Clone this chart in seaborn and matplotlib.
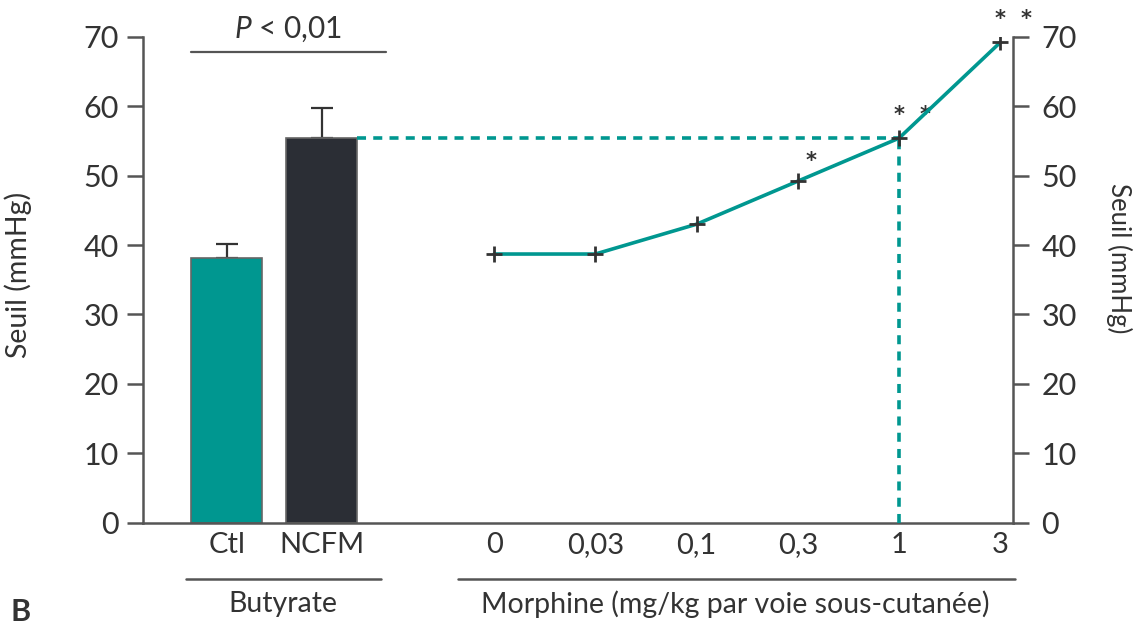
import numpy as np
import pandas as pd
import matplotlib
matplotlib.use('Agg')
import matplotlib.pyplot as plt
import matplotlib.transforms as mtransforms
import seaborn as sns

# ---- data ----
bar_labels = ['Ctl', 'NCFM']
bar_values = [38.2, 55.4]
bar_errors = [1.9, 4.4]

doses = ['0', '0,03', '0,1', '0,3', '1', '3']
morphine_values = [38.7, 38.7, 43.0, 49.2, 55.4, 69.2]
stars = ['', '', '', '*', '* *', '* *']

# ---- style ----
sns.set_theme(style='ticks')
plt.rcParams['font.family'] = ['Lato', 'DejaVu Sans']
plt.rcParams['mathtext.fontset'] = 'custom'
plt.rcParams['mathtext.it'] = 'Lato:italic'
plt.rcParams['mathtext.rm'] = 'Lato'

TEAL = '#009790'
DARK = '#2b2e35'
INK = '#333333'
SPINE = '#555555'

# layout (x units: one unit ~ 100 px)
bar_w = 0.71
bar_x = [0.834 + i * 0.95 for i in range(len(bar_labels))]
dose_x = [3.507 + i * 1.012 for i in range(len(doses))]

fig = plt.figure(figsize=(11.47, 6.28), dpi=100)
ax = fig.add_axes([0.1249, 0.1678, 0.7582, 0.7736])

df_bar = pd.DataFrame({'x': bar_x, 'y': bar_values, 'grp': bar_labels})
sns.barplot(data=df_bar, x='x', y='y', hue='grp', palette=[TEAL, DARK],
            native_scale=True, width=bar_w / 0.95, dodge=False,
            saturation=1, errorbar=None, edgecolor='#666666', linewidth=1.2,
            legend=False, ax=ax, zorder=2)
ax.errorbar(bar_x, bar_values, yerr=[[0] * len(bar_errors), bar_errors],
            fmt='none', ecolor=INK, elinewidth=1.6, capsize=8, capthick=1.6,
            zorder=1)

df_line = pd.DataFrame({'x': dose_x, 'y': morphine_values})
sns.lineplot(data=df_line, x='x', y='y', color=TEAL, linewidth=2.6,
             marker='+', markersize=12, markeredgecolor=INK,
             markeredgewidth=2, ax=ax, zorder=4)

# significance asterisks, one glyph each, spread 26 px apart
for xx, yy, s in zip(dose_x, morphine_values, stars):
    n = s.count('*')
    for k in range(n):
        dx = 9.4 if n == 1 else k * 18.7
        dy = 10 if n == 1 else 12.5
        ax.annotate('*', (xx, yy), xytext=(dx, dy), textcoords='offset points',
                    ha='center', va='baseline', fontsize=15, fontweight='bold',
                    family='DejaVu Sans', color=INK, annotation_clip=False)

# dashed guides from the NCFM bar to the 1 mg/kg dose
ax.hlines(bar_values[1], bar_x[1] + bar_w / 2, dose_x[4], colors=TEAL,
          linestyles=(0, (2.5, 2)), linewidth=2.6, zorder=3)
ax.vlines(dose_x[4], 0, morphine_values[4], colors=TEAL,
          linestyles=(0, (2.5, 2)), linewidth=2.6, zorder=3)

ax.set_xlim(0, 8.693)
ax.set_ylim(0, 70)
ax.set_yticks(range(0, 71, 10))
ax.set_xticks(bar_x + dose_x)
ax.set_xticklabels(bar_labels + doses)
ax.tick_params(axis='x', length=0, pad=7, labelsize=21, colors=INK)
ax.tick_params(axis='y', length=11.5, width=1.8, color=SPINE, labelsize=22,
               labelcolor=INK, pad=6)
ax.set_xlabel('')
ax.set_ylabel('Seuil (mmHg)', fontsize=20.5, color=INK)
ax.yaxis.set_label_coords(-0.128, 0.51)
for side in ['top', 'right']:
    ax.spines[side].set_visible(False)
for side in ['left', 'bottom']:
    ax.spines[side].set_color(SPINE)
    ax.spines[side].set_linewidth(1.8)

ax2 = ax.twinx()
ax2.set_ylim(0, 70)
ax2.set_yticks(range(0, 71, 10))
ax2.tick_params(axis='y', length=11.5, width=1.8, color=SPINE, labelsize=22,
                labelcolor=INK, pad=9)
ax2.set_ylabel('Seuil (mmHg)', fontsize=18.5, color=INK, rotation=270)
ax2.yaxis.set_label_coords(1.137, 0.545)
for side in ['top', 'left', 'bottom']:
    ax2.spines[side].set_visible(False)
ax2.spines['right'].set_color(SPINE)
ax2.spines['right'].set_linewidth(1.8)

# significance bracket
ax.plot([0.474, 2.424], [67.8, 67.8], color=SPINE, linewidth=1.6,
        clip_on=False)
ax.text(1.45, 69.0, r'$\mathit{P}$ < 0,01', ha='center', va='bottom',
        fontsize=21.5, color=INK, clip_on=False)

# group lines under the axis
trans = mtransforms.blended_transform_factory(ax.transData, fig.transFigure)
ax.plot([0.427, 2.374], [0.0785, 0.0785], color=SPINE, linewidth=1.8,
        transform=trans, clip_on=False)
ax.text(1.40, 0.038, 'Butyrate', transform=trans, ha='center', va='center',
        fontsize=20.5, color=INK)
ax.plot([3.147, 8.717], [0.0785, 0.0785], color=SPINE, linewidth=1.8,
        transform=trans, clip_on=False)
ax.text(5.92, 0.038, 'Morphine (mg/kg par voie sous-cutanée)', transform=trans,
        ha='center', va='center', fontsize=20.5, color=INK)

fig.text(0.009, 0.003, 'B', fontsize=22, fontweight='bold', color=INK,
         ha='left', va='bottom')

fig.savefig('out.png', dpi=100)
